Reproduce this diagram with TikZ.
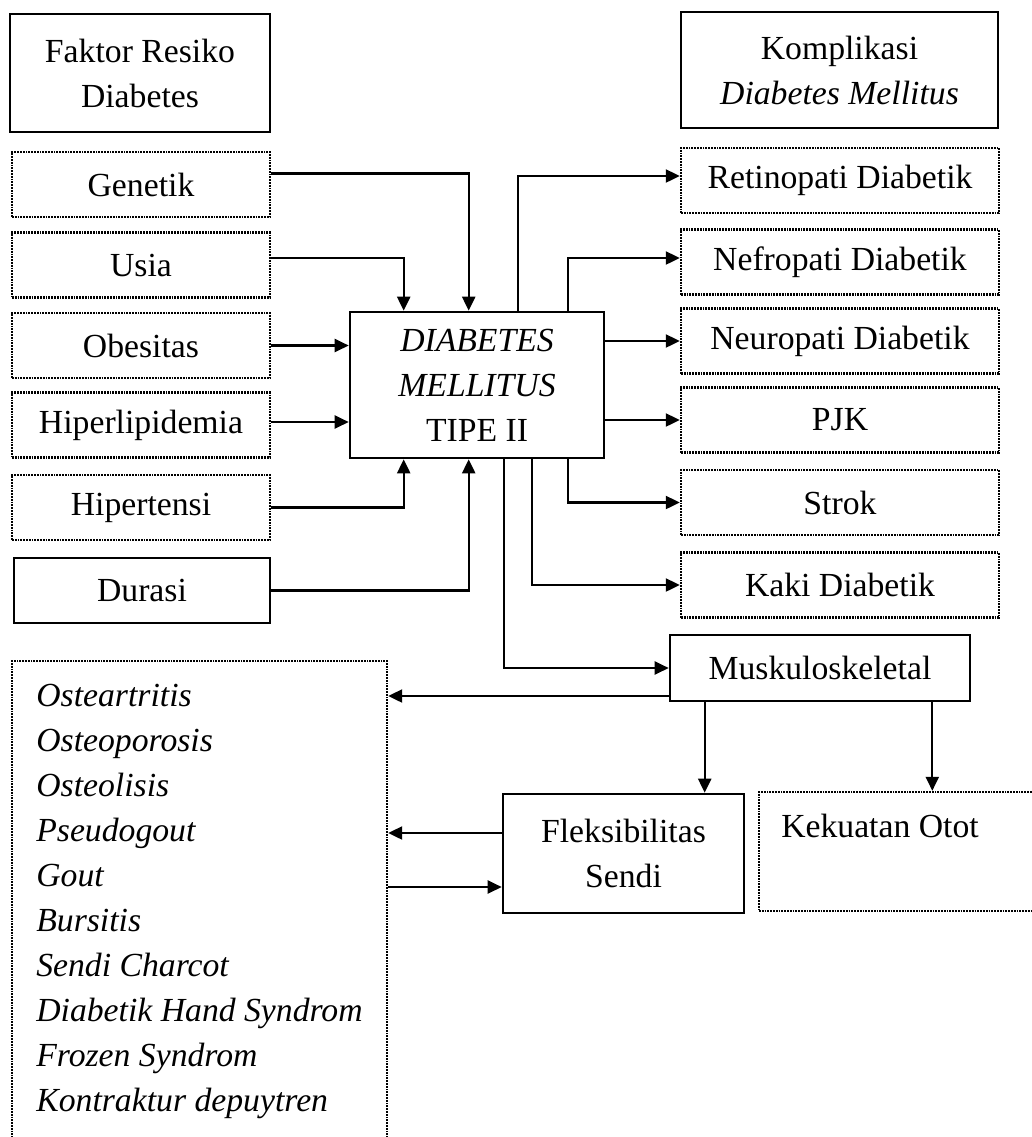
\documentclass[tikz,border=0pt]{standalone}
\usepackage{fontspec}
\setmainfont{Liberation Serif}
\usetikzlibrary{arrows.meta, positioning}

\begin{document}
\begin{tikzpicture}[x=0.5pt, y=-0.5pt,
    every node/.style={font=\fontsize{16.85}{22.5}\selectfont, align=center, inner sep=0pt},
    solidbox/.style={draw, line width=1.3pt},
    dotbox/.style={draw, line width=1.2pt, dash pattern=on 0.9pt off 0.5pt},
    leftbox/.style={dotbox, minimum width=129pt, minimum height=32.5pt},
    rightbox/.style={dotbox, minimum width=159pt, minimum height=32.5pt},
    arr/.style={line width=1.1pt, -{Triangle[length=7pt, width=6.5pt]}}]
\useasboundingbox (0,0) rectangle (1032,1137);
\node[solidbox, minimum width=130pt, minimum height=59pt] (faktor) at (140,73) {Faktor Resiko\\Diabetes};
\node[leftbox] (gen) at (141,184.5) {Genetik};
\node[leftbox] (usia) at (141,265) {Usia};
\node[leftbox] (obes) at (141,345.5) {Obesitas};
\node[leftbox] (hlip) at (141,425) {Hiperlipidemia};
\node[leftbox] (hten) at (141,507.5) {Hipertensi};
\node[solidbox, minimum width=128pt, minimum height=32.5pt] (dur) at (142,590.5) {Durasi};
\node[solidbox, minimum width=127pt, minimum height=73pt] (dm) at (477,385) {\textit{DIABETES}\\\textit{MELLITUS}\\TIPE II};
\node[solidbox, minimum width=158.5pt, minimum height=58pt] (komp) at (839.5,70) {Komplikasi\\\textit{Diabetes Mellitus}};
\node[rightbox] (retino) at (840,180.5) {Retinopati Diabetik};
\node[rightbox] (nefro) at (840,262) {Nefropati Diabetik};
\node[rightbox] (neuro) at (840,341) {Neuropati Diabetik};
\node[rightbox] (pjk) at (840,420) {PJK};
\node[rightbox] (strok) at (840,502.5) {Strok};
\node[rightbox] (kaki) at (840,585) {Kaki Diabetik};
\node[solidbox, minimum width=150pt, minimum height=33pt] (musk) at (820,668) {Muskuloskeletal};
\node[solidbox, minimum width=120.5pt, minimum height=59.5pt] (fleks) at (623.5,853.5) {Fleksibilitas\\Sendi};
\node[dotbox, minimum width=138.5pt, minimum height=59.5pt] (kekbox) at (897.5,851.5) {};
\node (kek) at (880,826) {Kekuatan Otot};
\node[dotbox, minimum width=187.5pt, minimum height=240pt, align=left, font=\fontsize{16.85}{22.5}\selectfont\itshape] (lst) at (199.5,901) {Osteartritis\\Osteoporosis\\Osteolisis\\Pseudogout\\Gout\\Bursitis\\Sendi Charcot\\Diabetik Hand Syndrom\\Frozen Syndrom\\Kontraktur depuytren};
\draw[arr] ([yshift=5.5pt]gen.east) -| ([xshift=60pt]dm.north west);
\draw[arr] ([yshift=3.5pt]usia.east) -| ([xshift=27.5pt]dm.north west);
\draw[arr] (obes.east) -- (obes.east -| dm.west);
\draw[arr] ([yshift=1.5pt]hlip.east) -- ([yshift=1.5pt]hlip.east -| dm.west);
\draw[arr] (hten.east) -| ([xshift=27.5pt]dm.south west);
\draw[arr] (dur.east) -| ([xshift=60pt]dm.south west);
\draw[arr] ([xshift=84.5pt]dm.north west) |- ([yshift=2.25pt]retino.west);
\draw[arr] ([xshift=109.5pt]dm.north west) |- ([yshift=2pt]nefro.west);
\draw[arr] (dm.east |- neuro.west) -- (neuro.west);
\draw[arr] (dm.east |- pjk.west) -- (pjk.west);
\draw[arr] ([xshift=109.5pt]dm.south west) |- (strok.west);
\draw[arr] ([xshift=91.5pt]dm.south west) |- (kaki.west);
\draw[arr] ([xshift=77.5pt]dm.south west) |- (musk.west);
\draw[arr] ([yshift=-14pt]musk.west) -- ([yshift=-14pt]musk.west -| lst.east);
\draw[arr] ([xshift=18pt]musk.south west) -- ([xshift=18pt]musk.south west |- fleks.north);
\draw[arr] ([xshift=-19.5pt]musk.south east) -- ([xshift=-19.5pt]musk.south east |- kekbox.north);
\draw[arr] ([yshift=10.25pt]fleks.west) -- ([yshift=10.25pt]fleks.west -| lst.east);
\draw[arr] ([yshift=-16.75pt]fleks.west -| lst.east) -- ([yshift=-16.75pt]fleks.west);
\end{tikzpicture}
\end{document}
